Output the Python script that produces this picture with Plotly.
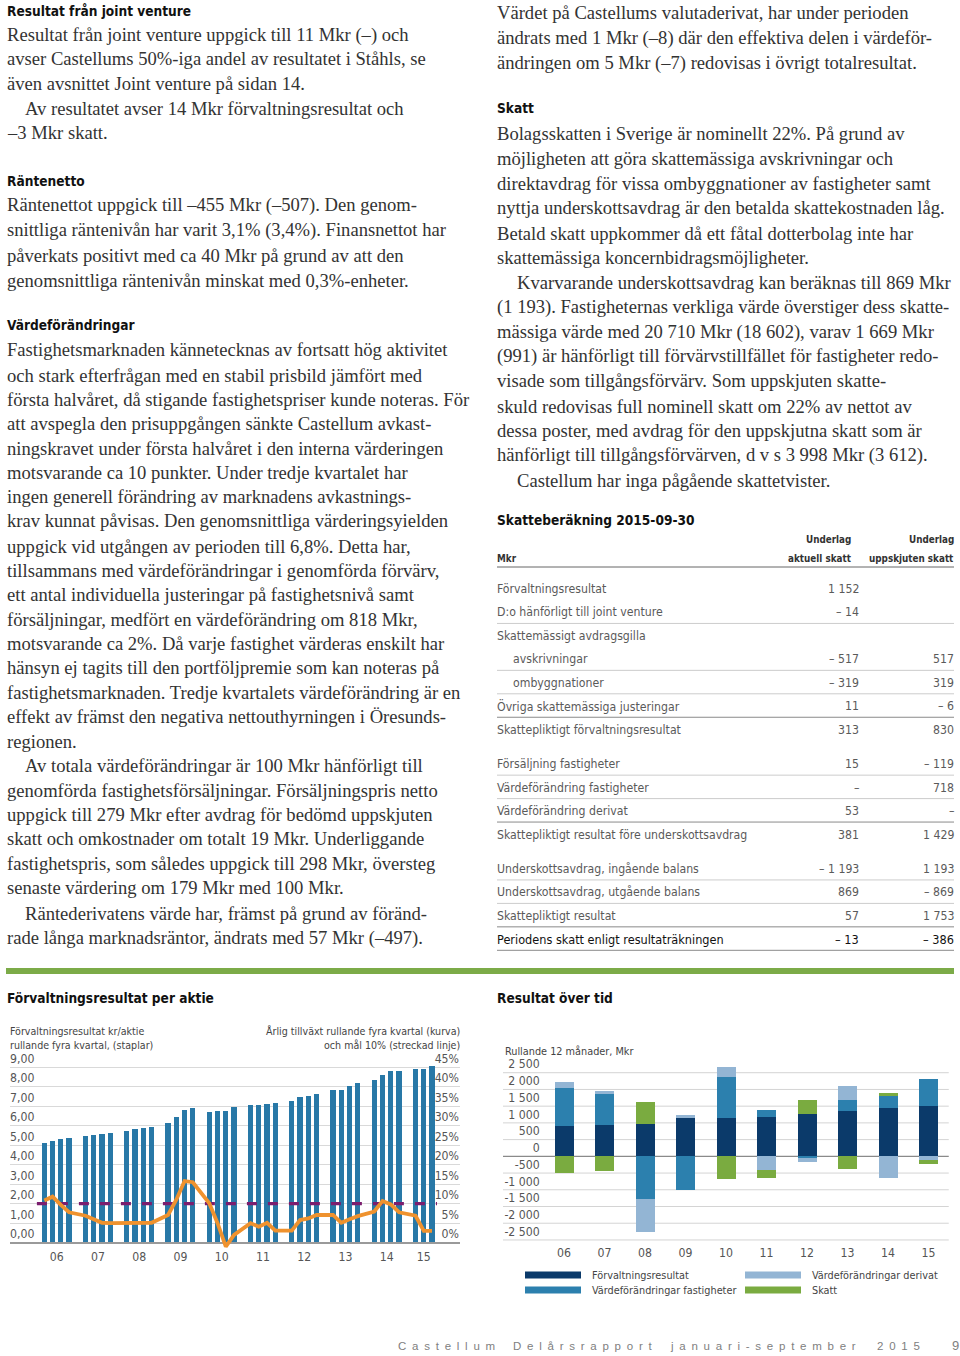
import plotly.graph_objects as go

W, H = 960, 1356

# ---------------- data: Förvaltningsresultat per aktie ----------------
YEARS = ["06", "07", "08", "09", "10", "11", "12", "13", "14", "15"]
QUARTERS_PER_YEAR = [4, 4, 4, 4, 4, 4, 4, 4, 4, 3]
EPS_ROLLING = [5.08, 5.21, 5.30, 5.36,
               5.43, 5.52, 5.58, 5.61,
               5.72, 5.79, 5.86, 5.91,
               6.14, 6.42, 6.80, 6.87,
               6.70, 6.74, 6.74, 6.94,
               7.03, 7.05, 7.11, 7.14,
               7.27, 7.44, 7.53, 7.62,
               7.80, 7.81, 8.00, 8.19,
               8.32, 8.59, 8.77, 8.81,
               8.90, 8.88, 9.06]
GROWTH_PCT = [10.8, 11.8, 9.7, 7.8,
              6.9, 6.0, 5.1, 5.0,
              5.0, 5.0, 5.0, 5.1,
              7.1, 11.0, 15.8, 15.5,
              10.1, 5.0, -1.0, 2.0,
              5.0, 4.1, 5.1, 3.1,
              3.1, 5.8, 6.2, 7.1,
              7.1, 5.1, 6.0, 6.8,
              8.0, 10.7, 9.8, 7.8,
              6.9, 3.0, 3.0]
GROWTH_TARGET = 10
EPS_TICKS = [0, 1, 2, 3, 4, 5, 6, 7, 8, 9]
EPS_TICKTEXT = ["0,00", "1,00", "2,00", "3,00", "4,00", "5,00", "6,00", "7,00", "8,00", "9,00"]
PCT_TICKS = [0, 5, 10, 15, 20, 25, 30, 35, 40, 45]
PCT_TICKTEXT = ["0%", "5%", "10%", "15%", "20%", "25%", "30%", "35%", "40%", "45%"]

# ---------------- data: Resultat över tid ----------------
FORVALTNING = [890, 925, 970, 1140, 1140, 1170, 1250, 1340, 1445, 1490]
VF_FASTIGHETER = [1140, 925, -1280, -1030, 1220, 200, -70, 325, 340, 800]
VF_DERIVAT = [170, 95, -1000, 100, 290, -430, -110, 430, -660, -120]
SKATT = [-520, -440, 650, 0, -680, -215, 415, -395, 95, -130]
SERIES_NAMES = ["Förvaltningsresultat", "Värdeförändringar fastigheter",
                "Värdeförändringar derivat", "Skatt"]
RES_TICKS = [2500, 2000, 1500, 1000, 500, 0, -500, -1000, -1500, -2000, -2500]
RES_TICKTEXT = ["2 500", "2 000", "1 500", "1 000", "500", "0", "-500",
                "-1 000", "-1 500", "-2 000", "-2 500"]

# ---------------- data: Skatteberäkning table ----------------
TABLE_LABELS = ["Förvaltningsresultat", "D:o hänförligt till joint venture",
                "Skattemässigt avdragsgilla", "avskrivningar", "ombyggnationer",
                "Övriga skattemässiga justeringar", "Skattepliktigt förvaltningsresultat",
                "Försäljning fastigheter", "Värdeförändring fastigheter",
                "Värdeförändring derivat", "Skattepliktigt resultat före underskottsavdrag",
                "Underskottsavdrag, ingående balans", "Underskottsavdrag, utgående balans",
                "Skattepliktigt resultat", "Periodens skatt enligt resultaträkningen"]
TABLE_AKTUELL = ["1 152", "– 14", "", "– 517", "– 319", "11", "313",
                 "15", "–", "53", "381", "– 1 193", "869", "57", "– 13"]
TABLE_UPPSKJUTEN = ["", "", "", "517", "319", "– 6", "830",
                    "– 119", "718", "–", "1 429", "1 193", "– 869", "1 753", "– 386"]

# ---------------- text content ----------------
LEFT_TEXT = [
    (11, 0, "h", "Resultat från joint venture"),
    (35, 0, "p", "Resultat från joint venture uppgick till 11 Mkr (–) och"),
    (59, 0, "p", "avser Castellums 50%-iga andel av resultatet i Ståhls, se"),
    (83, 0, "p", "även avsnittet Joint venture på sidan 14."),
    (108, 1, "p", "Av resultatet avser 14 Mkr förvaltningsresultat och"),
    (132, 0, "p", "–3 Mkr skatt."),
    (181, 0, "h", "Räntenetto"),
    (205, 0, "p", "Räntenettot uppgick till –455 Mkr (–507). Den genom-"),
    (230, 0, "p", "snittliga räntenivån har varit 3,1% (3,4%). Finansnettot har"),
    (255, 0, "p", "påverkats positivt med ca 40 Mkr på grund av att den"),
    (280, 0, "p", "genomsnittliga räntenivån minskat med 0,3%-enheter."),
    (325, 0, "h", "Värdeförändringar"),
    (350, 0, "p", "Fastighetsmarknaden kännetecknas av fortsatt hög aktivitet"),
    (375, 0, "p", "och stark efterfrågan med en stabil prisbild jämfört med"),
    (399, 0, "p", "första halvåret, då stigande fastighetspriser kunde noteras. För"),
    (423, 0, "p", "att avspegla den prisuppgången sänkte Castellum avkast-"),
    (448, 0, "p", "ningskravet under första halvåret i den interna värderingen"),
    (472, 0, "p", "motsvarande ca 10 punkter. Under tredje kvartalet har"),
    (497, 0, "p", "ingen generell förändring av marknadens avkastnings-"),
    (521, 0, "p", "krav kunnat påvisas. Den genomsnittliga värderingsyielden"),
    (546, 0, "p", "uppgick vid utgången av perioden till 6,8%. Detta har,"),
    (570, 0, "p", "tillsammans med värdeförändringar i genomförda förvärv,"),
    (594, 0, "p", "ett antal individuella justeringar på fastighetsnivå samt"),
    (619, 0, "p", "försäljningar, medfört en värdeförändring om 818 Mkr,"),
    (643, 0, "p", "motsvarande ca 2%. Då varje fastighet värderas enskilt har"),
    (668, 0, "p", "hänsyn ej tagits till den portföljpremie som kan noteras på"),
    (692, 0, "p", "fastighetsmarknaden. Tredje kvartalets värdeförändring är en"),
    (716, 0, "p", "effekt av främst den negativa nettouthyrningen i Öresunds-"),
    (741, 0, "p", "regionen."),
    (765, 1, "p", "Av totala värdeförändringar är 100 Mkr hänförligt till"),
    (790, 0, "p", "genomförda fastighetsförsäljningar. Försäljningspris netto"),
    (814, 0, "p", "uppgick till 279 Mkr efter avdrag för bedömd uppskjuten"),
    (838, 0, "p", "skatt och omkostnader om totalt 19 Mkr. Underliggande"),
    (863, 0, "p", "fastighetspris, som således uppgick till 298 Mkr, översteg"),
    (887, 0, "p", "senaste värdering om 179 Mkr med 100 Mkr."),
    (913, 1, "p", "Räntederivatens värde har, främst på grund av föränd-"),
    (938, 0, "p", "rade långa marknadsräntor, ändrats med 57 Mkr (–497)."),
]
RIGHT_TEXT = [
    (13, 0, "p", "Värdet på Castellums valutaderivat, har under perioden"),
    (38, 0, "p", "ändrats med 1 Mkr (–8) där den effektiva delen i värdeför-"),
    (63, 0, "p", "ändringen om 5 Mkr (–7) redovisas i övrigt totalresultat."),
    (108, 0, "h", "Skatt"),
    (133, 0, "p", "Bolagsskatten i Sverige är nominellt 22%. På grund av"),
    (158, 0, "p", "möjligheten att göra skattemässiga avskrivningar och"),
    (183, 0, "p", "direktavdrag för vissa ombyggnationer av fastigheter samt"),
    (208, 0, "p", "nyttja underskottsavdrag är den betalda skattekostnaden låg."),
    (233, 0, "p", "Betald skatt uppkommer då ett fåtal dotterbolag inte har"),
    (258, 0, "p", "skattemässiga koncernbidragsmöjligheter."),
    (283, 1, "p", "Kvarvarande underskottsavdrag kan beräknas till 869 Mkr"),
    (307, 0, "p", "(1 193). Fastigheternas verkliga värde överstiger dess skatte-"),
    (332, 0, "p", "mässiga värde med 20 710 Mkr (18 602), varav 1 669 Mkr"),
    (356, 0, "p", "(991) är hänförligt till förvärvstillfället för fastigheter redo-"),
    (381, 0, "p", "visade som tillgångsförvärv. Som uppskjuten skatte-"),
    (406, 0, "p", "skuld redovisas full nominell skatt om 22% av nettot av"),
    (431, 0, "p", "dessa poster, med avdrag för den uppskjutna skatt som är"),
    (455, 0, "p", "hänförligt till tillgångsförvärven, d v s 3 998 Mkr (3 612)."),
    (481, 1, "p", "Castellum har inga pågående skattetvister."),
    (520, 0, "h", "Skatteberäkning 2015-09-30"),
]
FOOTER_WORDS = ["Castellum", "Delårsrapport", "januari-september", "2015"]
PAGE_NUMBER = "9"

# ---------------- styles ----------------
SERIF = "Liberation Serif, Times New Roman, serif"
NARROW = "DejaVu Sans Condensed, Liberation Sans Narrow, Arial Narrow, Roboto, sans-serif"
BODY_COLOR = "#333333"
HEAD_COLOR = "#111111"
TICK_COLOR = "#555555"
BAR_BLUE = "#2878a7"
ORANGE = "#ef922e"
PURPLE = "#7b1d6e"
C_NAVY = "#0b3a6a"
C_MID = "#2c80ae"
C_LIGHT = "#93b5d4"
C_GREEN = "#7aab40"
SERIES_COLORS = [C_NAVY, C_MID, C_LIGHT, C_GREEN]
BODY_SIZE = 18.6
HEAD_SIZE = 13.6


def px(x):
    return x / W


def py(y):
    return 1 - y / H


annotations = []
shapes = []


def add_text(x, y, text, size, color, family, xanchor="left", bold=False):
    annotations.append(dict(
        x=px(x), y=py(y), xref="paper", yref="paper",
        text=("<b>%s</b>" % text) if bold else text,
        showarrow=False, xanchor=xanchor, yanchor="middle", borderpad=0, borderwidth=0,
        font=dict(size=size, color=color, family=family)))


def add_column(lines, x0, indent):
    for y, ind, kind, txt in lines:
        if kind == "h":
            add_text(x0, y, txt, HEAD_SIZE, HEAD_COLOR, NARROW, bold=True)
        else:
            add_text(x0 + indent * ind, y, txt, BODY_SIZE, BODY_COLOR, SERIF)


add_column(LEFT_TEXT, 7, 18)
add_column(RIGHT_TEXT, 497, 20)

# ---------------- table ----------------
TBL_X0, TBL_X1 = 497, 954
COL1_RIGHT, COL2_RIGHT = 859, 954
ROW_Y0, ROW_STEP, GAP = 589, 23.45, 11
ROW_GAPS = [0, 0, 0, 0, 0, 0, 0, 1, 1, 1, 1, 2, 2, 2, 2]
ROW_INDENT = [0, 0, 0, 1, 1, 0, 0, 0, 0, 0, 0, 0, 0, 0, 0]
LINE_AFTER = [None, "l", None, "l", "l", "d", None, "l", "l", "d", None, "l", "l", "d", "d"]
TABLE_SIZE = 12.2

add_text(851, 540, "Underlag", 9.8, "#333", NARROW, xanchor="right", bold=True)
add_text(954, 540, "Underlag", 9.8, "#333", NARROW, xanchor="right", bold=True)
add_text(852, 558, "aktuell skatt", 9.8, "#333", NARROW, xanchor="right", bold=True)
add_text(954, 558, "uppskjuten skatt", 9.8, "#333", NARROW, xanchor="right", bold=True)
add_text(497, 558, "Mkr", 9.8, "#333", NARROW, bold=True)
shapes.append(dict(type="line", xref="paper", yref="paper", x0=px(TBL_X0), x1=px(TBL_X1),
                   y0=py(567), y1=py(567), line=dict(color="#666", width=1)))

for i, lab in enumerate(TABLE_LABELS):
    y = ROW_Y0 + i * ROW_STEP + ROW_GAPS[i] * GAP
    last = i == len(TABLE_LABELS) - 1
    col = "#111111" if last else "#5a5a5a"
    size = TABLE_SIZE + 0.4 if last else TABLE_SIZE
    add_text(TBL_X0 + 16 * ROW_INDENT[i], y, lab, size, col, NARROW)
    if TABLE_AKTUELL[i]:
        add_text(COL1_RIGHT, y, TABLE_AKTUELL[i], size, col, NARROW, xanchor="right")
    if TABLE_UPPSKJUTEN[i]:
        add_text(COL2_RIGHT, y, TABLE_UPPSKJUTEN[i], size, col, NARROW, xanchor="right")
    if LINE_AFTER[i]:
        ly = y + 11
        shapes.append(dict(type="line", xref="paper", yref="paper", x0=px(TBL_X0), x1=px(TBL_X1),
                           y0=py(ly), y1=py(ly),
                           line=dict(color="#cccccc" if LINE_AFTER[i] == "l" else "#8a8a8a", width=1)))

# ---------------- separator ----------------
shapes.append(dict(type="rect", xref="paper", yref="paper", x0=px(6), x1=px(954),
                   y0=py(974), y1=py(968), fillcolor="#7cab48", line=dict(width=0)))

add_text(7, 998, "Förvaltningsresultat per aktie", HEAD_SIZE, HEAD_COLOR, NARROW, bold=True)
add_text(497, 998, "Resultat över tid", HEAD_SIZE, HEAD_COLOR, NARROW, bold=True)

# ---------------- left chart ----------------
xpos = []
for g, n in enumerate(QUARTERS_PER_YEAR):
    for q in range(n):
        xpos.append(g * 5 + q)
year_centers = [g * 5 + (n - 1) / 2 for g, n in enumerate(QUARTERS_PER_YEAR)]

SUB_SIZE = 10.6
add_text(10, 1031, "Förvaltningsresultat kr/aktie", SUB_SIZE, "#444", NARROW)
add_text(10, 1045, "rullande fyra kvartal, (staplar)", SUB_SIZE, "#444", NARROW)
add_text(460, 1031, "Årlig tillväxt rullande fyra kvartal (kurva)", SUB_SIZE, "#444", NARROW, xanchor="right")
add_text(460, 1045, "och mål 10% (streckad linje)", SUB_SIZE, "#444", NARROW, xanchor="right")

fig = go.Figure()
fig.add_trace(go.Bar(x=xpos, y=EPS_ROLLING, width=0.64, marker=dict(color=BAR_BLUE, line=dict(width=0)),
                     xaxis="x", yaxis="y", showlegend=False, hoverinfo="skip"))
fig.add_trace(go.Scatter(x=[xpos[0] - 0.9, xpos[-1] + 0.6], y=[GROWTH_TARGET, GROWTH_TARGET],
                         mode="lines", line=dict(color=PURPLE, width=3.3, dash="10px,11px"),
                         xaxis="x", yaxis="y3", showlegend=False, hoverinfo="skip"))
fig.add_trace(go.Scatter(x=xpos, y=GROWTH_PCT, mode="lines", line=dict(color=ORANGE, width=3.8),
                         xaxis="x", yaxis="y3", cliponaxis=False, showlegend=False, hoverinfo="skip"))

# ---------------- right chart ----------------
add_text(505, 1051, "Rullande 12 månader, Mkr", SUB_SIZE + 0.2, "#444", NARROW)
for vals, name, colr in zip([FORVALTNING, VF_FASTIGHETER, VF_DERIVAT, SKATT], SERIES_NAMES, SERIES_COLORS):
    fig.add_trace(go.Bar(x=YEARS, y=vals, name=name, width=0.48, marker=dict(color=colr, line=dict(width=0)),
                         xaxis="x2", yaxis="y2", showlegend=False, hoverinfo="skip"))

for v in RES_TICKS:
    shapes.append(dict(type="line", xref="paper", yref="y2", x0=px(503), x1=px(948.75), y0=v, y1=v,
                       layer="below", line=dict(color="#8a8a8a" if v == 0 else "#d4d4d4",
                                                width=1.3 if v == 0 else 1)))

legend_pos = [(525, 1275), (525, 1290), (745, 1275), (745, 1290)]
for (lx, ly), name, colr in zip(legend_pos, SERIES_NAMES, SERIES_COLORS):
    shapes.append(dict(type="rect", xref="paper", yref="paper", x0=px(lx), x1=px(lx + 56),
                       y0=py(ly + 3.5), y1=py(ly - 3.5), fillcolor=colr, line=dict(width=0)))
    add_text(lx + 67, ly, name, SUB_SIZE + 0.2, "#444", NARROW)

# ---------------- footer ----------------
FOOTER_X = [398, 513, 670, 877]
for fx, word in zip(FOOTER_X, FOOTER_WORDS):
    add_text(fx, 1346, "\u2002".join(list(word)), 11.5, "#808080", "Liberation Sans, Arial, sans-serif")
add_text(955, 1345, PAGE_NUMBER, 13, "#808080", "Liberation Sans, Arial, sans-serif", xanchor="center")

tickfont = dict(size=12.2, color=TICK_COLOR, family=NARROW)

fig.update_layout(
    width=W, height=H, margin=dict(l=0, r=0, t=0, b=0),
    template="none", paper_bgcolor="white", plot_bgcolor="rgba(0,0,0,0)",
    barmode="relative", bargap=0, showlegend=False,
    xaxis=dict(domain=[px(10), px(460)], range=[-4.16, 50.39], tickvals=year_centers, ticktext=YEARS,
               showgrid=False, zeroline=False, showline=False, ticks="", tickfont=tickfont,
               anchor="y", automargin=False, fixedrange=True, ticklabelstandoff=-1),
    yaxis=dict(domain=[py(1248.5), py(1061.4)], range=[-0.3, 9.3], tickvals=EPS_TICKS,
               ticktext=EPS_TICKTEXT, ticklabelposition="inside top", ticklabeloverflow="allow",
               ticklabelstandoff=-3,
               showgrid=True, gridcolor="#d9d9d9", gridwidth=1, zeroline=True, zerolinecolor="#9a9a9a",
               zerolinewidth=1.5, showline=False, ticks="", tickfont=tickfont, anchor="x",
               automargin=False, fixedrange=True),
    yaxis3=dict(overlaying="y", side="right", anchor="x", range=[-1.5, 46.5], tickvals=PCT_TICKS,
                ticktext=PCT_TICKTEXT, ticklabelposition="inside top", ticklabeloverflow="allow",
                ticklabelstandoff=-2,
                showgrid=False, zeroline=False, showline=False, ticks="", tickfont=tickfont,
                automargin=False, fixedrange=True),
    xaxis2=dict(domain=[px(543.75), px(948.75)], type="category", showgrid=False, zeroline=False,
                showline=False, ticks="", tickfont=tickfont, anchor="y2", automargin=False,
                fixedrange=True, ticklabelstandoff=0),
    yaxis2=dict(domain=[py(1243.3), py(1064.35)], range=[-2600, 2750], tickvals=RES_TICKS,
                ticktext=RES_TICKTEXT, ticklabelposition="outside top", ticklabeloverflow="allow",
                showgrid=False, zeroline=False, showline=False, ticks="", tickfont=tickfont,
                anchor="x2", automargin=False, fixedrange=True, ticklabelstandoff=3),
    annotations=annotations, shapes=shapes,
)

# remove the browser's default 8 px body margin so the 960x1356 figure fills the window exactly
fig.write_html("out.html", config={"displayModeBar": False},
               post_script="document.body.style.margin='0px';document.body.style.overflow='hidden';")
